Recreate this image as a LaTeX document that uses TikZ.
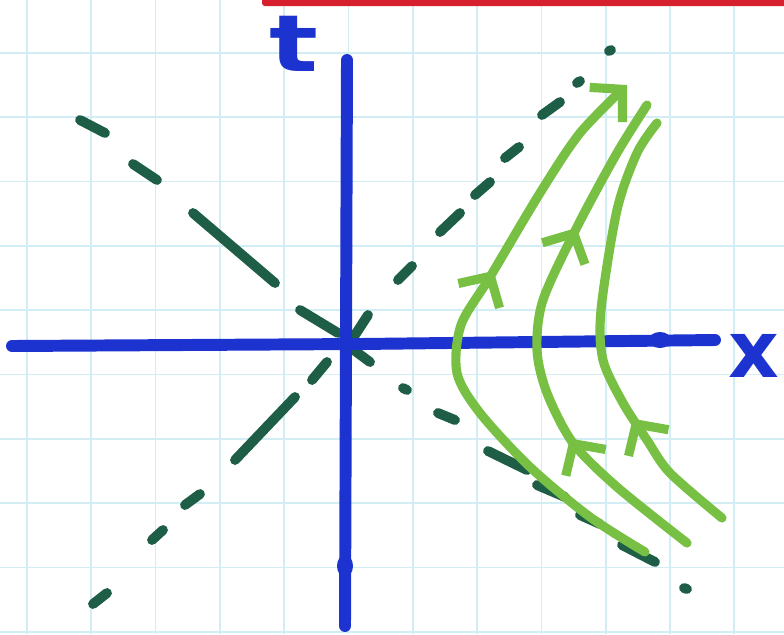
\documentclass[tikz,border=0pt]{standalone}
\usepackage{fontspec}
\setsansfont{DejaVu Sans}
\usetikzlibrary{arrows.meta,decorations.markings}
\definecolor{gridblue}{HTML}{D2EDF4}
\definecolor{axisblue}{HTML}{1C33CF}
\definecolor{asymgreen}{HTML}{1E5E46}
\definecolor{flowgreen}{HTML}{78C043}
\definecolor{topred}{HTML}{D7202E}
\newcommand{\chev}{\arrow{Straight Barb[length=16pt,width=34pt]}}

\begin{document}
\begin{tikzpicture}[x=0.025cm,y=-0.025cm,
    gridline/.style={draw=gridblue,line width=1.2pt},
    axis/.style={draw=axisblue,line width=8.5pt,line cap=round,line join=round},
    asym/.style={draw=asymgreen,line width=7pt,line cap=round},
    flow/.style={draw=flowgreen,line width=6.5pt,line cap=round,line join=round},
    barb/.style={postaction={decorate,decoration={markings,mark=at position #1 with {\chev}}}},
    lbl/.style={text=axisblue,inner sep=0pt}]
    \useasboundingbox (0,0) rectangle (784,634);
    \foreach \i in {0,...,11}
        \draw[gridline] ({27+64.3*\i},0) -- ({27+64.3*\i},634);
    \foreach \j in {0,...,9}
        \draw[gridline] (0,{53+64.3*\j}) -- (784,{53+64.3*\j});
    \fill[topred,rounded corners=2pt] (262,-3) rectangle (790,6);
    \foreach \ax/\ay/\bx/\by in {80/120/105/133,133/164/157/180,193/213/275/283,
        300/310/338/333,347/345/370/362,403/388/407/390,438/413/455/420,
        488/451/527/470,537/485/565/497,580/515/600/524,622/545/655/562,
        684/588/687/589}
        \draw[asym] (\ax,\ay) -- (\bx,\by);
    \foreach \ax/\ay/\bx/\by in {93/604/107/593,152/540/163/530,185/505/200/494,
        235/460/295/397,312/380/327/362,355/335/368/315,398/280/412/266,
        440/232/460/213,475/195/490/182,505/158/519/147,542/115/560/102,
        577/83/580/81,609/51/611/50}
        \draw[asym] (\ax,\ay) -- (\bx,\by);
    \draw[axis] (12,346) -- (360,344) -- (715,340);
    \draw[axis] (347,60) -- (346,340) -- (345,626);
    \fill[axisblue] (660,340) ellipse (11 and 8);
    \fill[axisblue] (345,566) ellipse (8 and 11);
    \node[lbl,font=\sffamily\bfseries\fontsize{56}{56}\selectfont,xscale=1.3] (tl) at (294,44) {t};
    \node[lbl,font=\sffamily\bfseries\fontsize{56}{56}\selectfont] (xl) at (754,356) {x};
    \draw[flow,barb=0.62,-{Straight Barb[length=16pt,width=34pt]}] plot[smooth] coordinates
        {(645,552) (590,517) (530,467) (480,413) (457,373) (461,325) (490,277) (540,193) (580,133) (627,85)};
    \draw[flow,barb=0.30,barb=0.73] plot[smooth] coordinates
        {(687,543) (617,487) (573,443) (547,393) (537,350) (543,300) (577,227) (617,153) (647,105)};
    \draw[flow,barb=0.30] plot[smooth] coordinates
        {(722,518) (670,473) (647,440) (623,403) (603,360) (601,310) (617,210) (637,153) (657,123)};
\end{tikzpicture}
\end{document}
